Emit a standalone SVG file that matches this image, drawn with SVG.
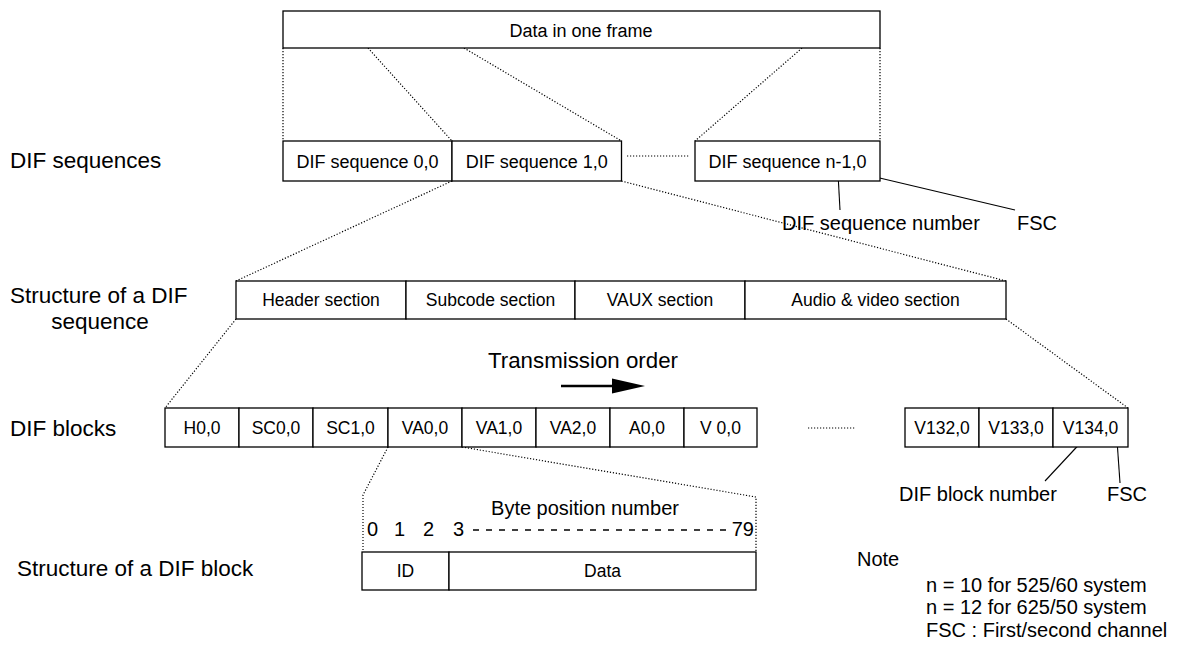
<svg xmlns="http://www.w3.org/2000/svg" width="1178" height="645" viewBox="0 0 1178 645">
<style>
.box{fill:#fff;stroke:#000;stroke-width:1.3}
.t{font-family:"Liberation Sans",Arial,sans-serif;fill:#000}
.bx{font-size:17.5px;text-anchor:middle}
.sq{font-size:18px;text-anchor:middle}
.lbl{font-size:22.5px}
.ann{font-size:20px}
.dot{fill:none;stroke:#000;stroke-width:1.2;stroke-dasharray:1.2 1.8}
.solid{fill:none;stroke:#000;stroke-width:1.1}
</style>
<rect width="1178" height="645" fill="#fff"/>

<g id="labels">
<text class="t lbl" x="10" y="168">DIF sequences</text>
<text class="t lbl" x="10" y="303">Structure of a DIF</text>
<text class="t lbl" x="100" y="329" text-anchor="middle">sequence</text>
<text class="t lbl" x="10" y="436">DIF blocks</text>
<text class="t lbl" x="17" y="576">Structure of a DIF block</text>
</g>

<g id="connectors">
<line class="dot" x1="283" y1="48" x2="283" y2="141"/>
<line class="dot" x1="368" y1="48" x2="452" y2="141"/>
<line class="dot" x1="464" y1="48" x2="621.5" y2="141"/>
<line class="dot" x1="802" y1="48" x2="695" y2="141"/>
<line class="dot" x1="880" y1="48" x2="880" y2="141"/>
<line class="dot" x1="627" y1="156" x2="690" y2="156"/>
<line class="dot" x1="452" y1="181" x2="236" y2="281"/>
<line class="dot" x1="621.5" y1="181" x2="1006" y2="281"/>
<line class="dot" x1="236" y1="319" x2="165" y2="408"/>
<line class="dot" x1="1006" y1="319" x2="1128" y2="408"/>
<polyline class="dot" points="388,447 363,495 363,552"/>
<polyline class="dot" points="462,447 756,497 756,552"/>
<line class="dot" x1="808" y1="428" x2="855" y2="428"/>
<line class="solid" x1="837.7" y1="168" x2="840" y2="210"/>
<line class="solid" x1="867" y1="175" x2="1015" y2="210"/>
<line class="solid" x1="1100" y1="422" x2="1045" y2="481"/>
<line class="solid" x1="1116" y1="426" x2="1120" y2="483"/>
</g>

<g id="frame">
<rect class="box" x="283" y="11" width="597" height="37"/>
<text class="t sq" x="581" y="37">Data in one frame</text>
</g>

<g id="seq0"><rect class="box" x="283" y="141" width="169" height="40"/><text class="t sq" x="367.5" y="167.5">DIF sequence 0,0</text></g>
<g id="seq1"><rect class="box" x="452" y="141" width="169.5" height="40"/><text class="t sq" x="536.7" y="167.5">DIF sequence 1,0</text></g>
<g id="seqn"><rect class="box" x="695" y="141" width="185" height="40"/><text class="t sq" x="787.5" y="167.5">DIF sequence n-1,0</text></g>
<g id="seqnote">
<text class="t ann" x="782" y="230">DIF sequence number</text>
<text class="t ann" x="1017" y="230">FSC</text>
</g>

<g id="header"><rect class="box" x="236" y="281" width="170" height="38"/><text class="t bx" x="321" y="306.3">Header section</text></g>
<g id="subcode"><rect class="box" x="406" y="281" width="169" height="38"/><text class="t bx" x="490.5" y="306.3">Subcode section</text></g>
<g id="vaux"><rect class="box" x="575" y="281" width="170" height="38"/><text class="t bx" x="660" y="306.3">VAUX section</text></g>
<g id="av"><rect class="box" x="745" y="281" width="261" height="38"/><text class="t bx" x="875.5" y="306.3">Audio &amp; video section</text></g>

<g id="transmission">
<text class="t" x="583" y="368" font-size="22.3" text-anchor="middle">Transmission order</text>
<line x1="561" y1="386" x2="616" y2="386" stroke="#000" stroke-width="2.6"/>
<polygon points="612,378.5 645,386 612,393.5" fill="#000"/>
</g>

<g id="blocks">
<g id="b-h0"><rect class="box" x="165" y="408" width="74" height="39"/><text class="t bx" x="202" y="433.8">H0,0</text></g>
<g id="b-sc0"><rect class="box" x="239" y="408" width="74" height="39"/><text class="t bx" x="276" y="433.8">SC0,0</text></g>
<g id="b-sc1"><rect class="box" x="313" y="408" width="75" height="39"/><text class="t bx" x="350.5" y="433.8">SC1,0</text></g>
<g id="b-va0"><rect class="box" x="388" y="408" width="74" height="39"/><text class="t bx" x="425" y="433.8">VA0,0</text></g>
<g id="b-va1"><rect class="box" x="462" y="408" width="74" height="39"/><text class="t bx" x="499" y="433.8">VA1,0</text></g>
<g id="b-va2"><rect class="box" x="536" y="408" width="74" height="39"/><text class="t bx" x="573" y="433.8">VA2,0</text></g>
<g id="b-a0"><rect class="box" x="610" y="408" width="74" height="39"/><text class="t bx" x="647" y="433.8">A0,0</text></g>
<g id="b-v0"><rect class="box" x="684" y="408" width="73" height="39"/><text class="t bx" x="720.5" y="433.8">V 0,0</text></g>
<g id="b-v132"><rect class="box" x="905" y="408" width="74" height="39"/><text class="t bx" x="942" y="433.8">V132,0</text></g>
<g id="b-v133"><rect class="box" x="979" y="408" width="74" height="39"/><text class="t bx" x="1016" y="433.8">V133,0</text></g>
<g id="b-v134"><rect class="box" x="1053" y="408" width="75" height="39"/><text class="t bx" x="1090.5" y="433.8">V134,0</text></g>
</g>
<g id="blocknote">
<text class="t ann" x="899" y="501">DIF block number</text>
<text class="t ann" x="1107" y="501">FSC</text>
</g>

<g id="bytes">
<text class="t ann" x="585" y="515" text-anchor="middle">Byte position number</text>
<text class="t ann" x="367" y="536">0</text>
<text class="t ann" x="394" y="536">1</text>
<text class="t ann" x="423" y="536">2</text>
<text class="t ann" x="453" y="536">3</text>
<line x1="473" y1="530" x2="730" y2="530" stroke="#000" stroke-width="1.3" stroke-dasharray="6 7"/>
<text class="t ann" x="754" y="536" text-anchor="end">79</text>
</g>
<g id="id"><rect class="box" x="362" y="552" width="87" height="38"/><text class="t bx" x="405.5" y="577.3">ID</text></g>
<g id="data"><rect class="box" x="449" y="552" width="307" height="38"/><text class="t bx" x="602.5" y="577.3">Data</text></g>

<g id="note">
<text class="t ann" x="857" y="566">Note</text>
<text class="t ann" x="926" y="592">n = 10 for 525/60 system</text>
<text class="t ann" x="926" y="614">n = 12 for 625/50 system</text>
<text class="t ann" x="926" y="637">FSC : First/second channel</text>
</g>
</svg>
